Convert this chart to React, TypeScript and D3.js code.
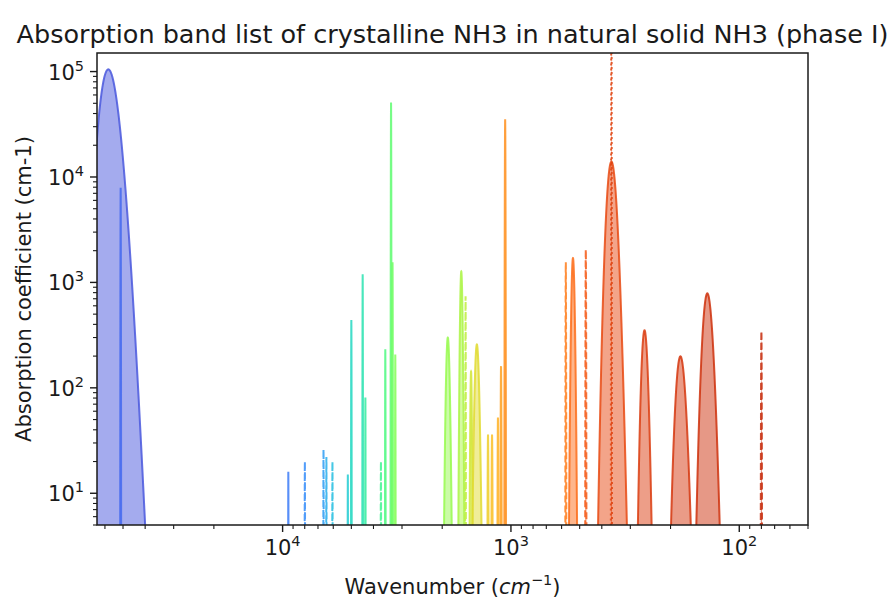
import React from 'react';
import * as d3 from 'd3';

const WIDTH = 890;
const HEIGHT = 601;
const M = { top: 53, right: 82, bottom: 76, left: 97 };

// band list, sorted from high to low wavenumber
// centre of each band (cm-1)
const bandCenters = [58000, 51200, 9440, 7990, 6620, 6430, 6050, 5180, 5000, 4460, 4340, 3710, 3550, 3350, 3300, 3210,
  1890, 1650, 1580, 1495, 1410, 1260, 1210, 1140, 1105, 1060, 575, 535, 470, 363, 363, 260, 181, 138, 80];
// peak absorption coefficient (cm-1)
const bandPeaks = [105000, 7900, 16, 20, 26, 22, 20, 15, 440, 1190, 81, 20, 232, 50800, 1550, 207,
  300, 1270, 736, 143, 258, 36, 36, 52, 160, 35100, 1550, 1700, 2040, 14000, 1e6, 351, 199, 787, 344];
// band width, FWHM (cm-1)
const bandWidths = [9500, 150, 20, 20, 15, 15, 15, 12, 15, 12, 10, 10, 10, 10, 10, 10,
  60, 35, 4, 20, 54, 8, 8, 6, 6, 5, 2, 15, 2, 31, 1, 14.5, 15.6, 12, 0.4];
// line style of each band
const bandStyles = ['-', '-', '-', '--', '--', '--', '--', '-', '-', '-', '-', '--', '-', '-', '-', '-',
  '-', '-', '--', '-', '-', '-', '-', '-', '-', '-', '--', '-', '--', '-', ':', '-', '-', '-', '--'];

const xTickValues = [1e4, 1e3, 1e2];
const yTickValues = [1e1, 1e2, 1e3, 1e4, 1e5];

const FONT = 'DejaVu Sans, sans-serif';
const INK = '#1a1a1a';

const dashes = { '-': undefined, '--': '7,3', ':': '2,3' };

const App = () => {
  const x = d3.scaleLog().domain([65000, 50]).range([M.left, WIDTH - M.right]);
  const y = d3.scaleLog().domain([5, 1.5e5]).range([HEIGHT - M.bottom, M.top]);

  const line = d3.line<number[]>().x(d => x(d[0])).y(d => y(d[1]));
  const area = d3.area<number[]>().x(d => x(d[0])).y0(y(1)).y1(d => y(d[1]));

  // position along the turbo map for each band index
  const n = bandCenters.length;
  const tone = d3.scaleLinear().domain([0, 13, 25, 29, n - 1]).range([0.1, 0.43, 0.73, 0.83, 0.88]);

  // gaussian profile for each band
  const bands = bandCenters.map((c, i) => {
    const s = bandWidths[i] / 2.3548;
    const pts = d3.range(-7, 7.0001, 0.05)
      .map(k => [c + k * s, Math.max(bandPeaks[i] * Math.exp(-k * k / 2), 1)])
      .filter(p => p[0] > 0);
    return { pts, color: d3.interpolateTurbo(tone(i)), style: bandStyles[i] };
  });

  const isPow = v => Math.abs(Math.log10(v) - Math.round(Math.log10(v))) < 1e-6;
  const xMinor = x.ticks().filter(v => !isPow(v) && v <= 65000 && v >= 50);
  const yMinor = y.ticks().filter(v => !isPow(v) && v >= 5 && v <= 1.5e5);

  const x0 = M.left, x1 = WIDTH - M.right, y0 = HEIGHT - M.bottom, y1 = M.top;

  return (
    <svg width={WIDTH} height={HEIGHT} style={{ position: 'absolute', left: 0, top: 0, background: '#fff' }}
      fontFamily={FONT}>
      <defs>
        <clipPath id="plot">
          <rect x={x0} y={y1} width={x1 - x0} height={y0 - y1} />
        </clipPath>
      </defs>
      <g clipPath="url(#plot)">
        {bands.map((b, i) => (
          <g key={i}>
            <path d={area(b.pts)} fill={b.color} fillOpacity={0.5} />
            <path d={line(b.pts)} fill="none" stroke={b.color} strokeOpacity={0.85} strokeWidth={2}
              strokeDasharray={dashes[b.style]} />
          </g>
        ))}
      </g>
      <rect x={x0} y={y1} width={x1 - x0} height={y0 - y1} fill="none" stroke={INK} strokeWidth={1.5} />

      {xTickValues.map(v => (
        <g key={v} transform={`translate(${x(v)},${y0})`}>
          <line y2={7} stroke={INK} strokeWidth={1.4} />
          <text y={30} textAnchor="middle" fontSize={21} fill={INK}>
            10<tspan dy={-9} fontSize={14.5}>{Math.round(Math.log10(v))}</tspan>
          </text>
        </g>
      ))}
      {xMinor.map(v => (
        <line key={v} x1={x(v)} x2={x(v)} y1={y0} y2={y0 + 4} stroke={INK} strokeWidth={1.1} />
      ))}
      {yTickValues.map(v => (
        <g key={v} transform={`translate(${x0},${y(v)})`}>
          <line x2={-7} stroke={INK} strokeWidth={1.4} />
          <text x={-13} y={8} textAnchor="end" fontSize={21} fill={INK}>
            10<tspan dy={-9} fontSize={14.5}>{Math.round(Math.log10(v))}</tspan>
          </text>
        </g>
      ))}
      {yMinor.map(v => (
        <line key={v} x1={x0} x2={x0 - 4} y1={y(v)} y2={y(v)} stroke={INK} strokeWidth={1.1} />
      ))}

      <text x={(x0 + x1) / 2} y={43} textAnchor="middle" fontSize={25.5} fill={INK}>
        Absorption band list of crystalline NH3 in natural solid NH3 (phase I)
      </text>
      <text x={(x0 + x1) / 2} y={594} textAnchor="middle" fontSize={21} fill={INK}>
        Wavenumber (<tspan fontStyle="italic">cm</tspan><tspan dy={-9} fontSize={14.5}>−1</tspan><tspan dy={9}>)</tspan>
      </text>
      <text transform={`translate(31,${(y0 + y1) / 2}) rotate(-90)`} textAnchor="middle" fontSize={21} fill={INK}>
        Absorption coefficient (cm-1)
      </text>
    </svg>
  );
};

export default App;
